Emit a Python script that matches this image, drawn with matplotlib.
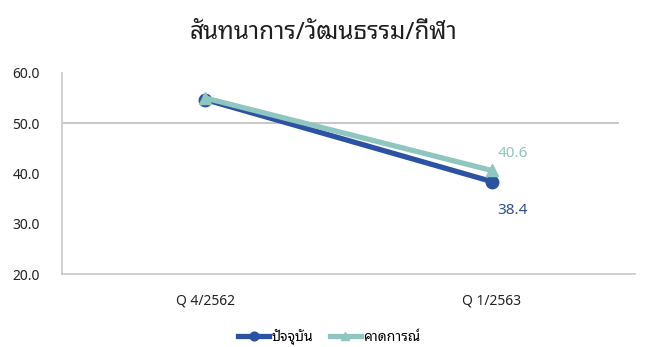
import matplotlib
matplotlib.use("Agg")
import matplotlib.pyplot as plt

plt.rcParams["font.family"] = ["Noto Sans", "Noto Sans Thai Looped", "DejaVu Sans"]

title = "สันทนาการ/วัฒนธรรม/กีฬา"
quarters = ["Q 4/2562", "Q 1/2563"]
current = [54.7, 38.4]
forecast = [55.0, 40.6]
series_names = ["ปัจจุบัน", "คาดการณ์"]

blue = "#2C53A3"
teal = "#8FC6BF"

fig = plt.figure(figsize=(6.46, 3.47), dpi=100)
ax = fig.add_axes([0.096, 0.21, 0.887, 0.58])

x = range(len(quarters))
ax.plot(x, current, color=blue, lw=3.8, marker="o", ms=9, label=series_names[0], zorder=3)
ax.plot(x, forecast, color=teal, lw=3.8, marker="^", ms=9, label=series_names[1], zorder=4)

ax.set_xlim(-0.5, 1.5)
ax.set_ylim(20, 60)
ax.set_yticks([20, 30, 40, 50, 60])
ax.set_yticklabels([f"{v:.1f}" for v in [20, 30, 40, 50, 60]])
ax.set_xticks(list(x))
ax.set_xticklabels(quarters)
ax.axhline(50, xmax=0.97, color="#BFBFBF", lw=1.2, zorder=1)

for s in ["top", "right"]:
    ax.spines[s].set_visible(False)
ax.spines["left"].set_color("#C8C8C8")
ax.spines["bottom"].set_color("#C8C8C8")
ax.spines["left"].set_linewidth(1.2)
ax.spines["bottom"].set_linewidth(1.2)
ax.tick_params(axis="y", length=0, pad=16, labelsize=10, labelcolor="#222222")
ax.tick_params(axis="x", length=0, pad=14, labelsize=10, labelcolor="#222222")

ax.annotate(f"{forecast[1]:.1f}", (1, forecast[1]), xytext=(15, 12), textcoords="offset points",
            ha="center", va="center", color=teal, fontsize=11, fontweight="semibold")
ax.annotate(f"{current[1]:.1f}", (1, current[1]), xytext=(15, -21), textcoords="offset points",
            ha="center", va="center", color="#2F4F8F", fontsize=11, fontweight="semibold")

fig.text(0.5, 0.905, title, ha="center", va="center", fontsize=17.5, color="#1E1E1E")

fig.legend(loc="center", bbox_to_anchor=(0.51, 0.03), ncol=2, frameon=False, fontsize=10,
           handlelength=2.2, columnspacing=1.2, handletextpad=0.2, markerscale=0.7)

fig.savefig("out.png", dpi=100)
